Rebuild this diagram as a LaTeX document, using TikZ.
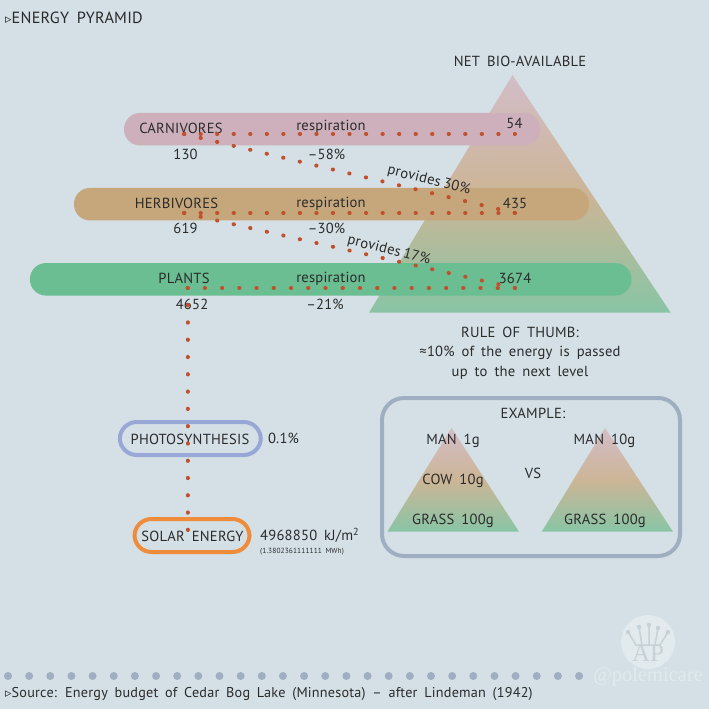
\documentclass[tikz,border=0pt]{standalone}
\usepackage{fontspec}
\setmainfont{PT Sans}[LetterSpace=1.5,WordSpace=1.7]
\newfontfamily\symfont{DejaVu Sans}
\newfontfamily\markfont{Liberation Serif}
\usepackage{xcolor}
\usepackage{tikz}
\usetikzlibrary{arrows.meta, positioning, calc}

\definecolor{bgcol}{HTML}{D4E0E5}
\definecolor{inkcol}{HTML}{2B2B2B}
\definecolor{dotcol}{HTML}{C1502E}
\definecolor{carncol}{HTML}{CEB0BC}
\definecolor{herbcol}{HTML}{C6A77C}
\definecolor{plantcol}{HTML}{6BBD92}
\definecolor{topcol}{HTML}{D3BDC8}
\definecolor{midcol}{HTML}{CCB596}
\definecolor{lowcol}{HTML}{88C5A5}
\definecolor{greycol}{HTML}{A0AEC2}
\definecolor{photocol}{HTML}{98A7D5}
\definecolor{solarcol}{HTML}{EF8C3C}
\definecolor{markcol}{HTML}{E2EAED}
\definecolor{markline}{HTML}{C6D2D7}

\begin{document}
\begin{tikzpicture}[
  x=1pt, y=-1pt,
  node distance=6pt and 6pt,
  label/.style={inner sep=0pt, text=inkcol, font=\fontsize{14.6}{17}\selectfont},
  tiny/.style={inner sep=0pt, text=inkcol, font=\fontsize{7.4}{8}\selectfont},
  bar/.style={rectangle, rounded corners=16pt, minimum height=32.5pt, inner sep=0pt},
  pill/.style={rectangle, draw, line width=4pt, rounded corners=17pt, minimum height=33pt, inner sep=0pt},
  pyr/.style={top color=topcol, bottom color=lowcol, middle color=midcol},
  flow/.style={draw=dotcol, line width=4pt, line cap=round},
]
  \fill[bgcol] (0,0) rectangle (709,709);
  \path[use as bounding box] (0,0) rectangle (709,709);

  % pyramid
  \shade[pyr] (512.5,75) -- (670.7,312.7) -- (369,312.7) -- cycle;
  \node[label] (nettitle) at (520,61) {NET BIO-AVAILABLE};

  \node[bar, fill=carncol, minimum width=416pt] (carnbar) at (332,129.2) {};
  \node[bar, fill=herbcol, minimum width=515pt] (herbbar) at (331.5,204.2) {};
  \node[bar, fill=plantcol, minimum width=601.5pt] (plantbar) at (330.7,279.3) {};

  \node[label, anchor=west, font=\fontsize{16.2}{17}\selectfont] (title) at (5,18) {{\symfont\fontsize{13}{13}\selectfont ▹}ENERGY PYRAMID};

  % rows
  \node[label] (carn) at (181,128) {CARNIVORES};
  \node[label] (carnresp) at (331,127) {respiration};
  \node[label] (carnnet) at (514.5,123.5) {54};
  \node[label] (carngross) at (185.5,154.5) {130};
  \node[label] (carnloss) at (326.5,154.5) {–58\%};

  \node[label] (herb) at (176.5,203.5) {HERBIVORES};
  \node[label] (herbresp) at (331,204) {respiration};
  \node[label] (herbnet) at (515,203.5) {435};
  \node[label] (herbgross) at (185.5,228.5) {619};
  \node[label] (herbloss) at (326.5,228.5) {–30\%};

  \node[label] (plant) at (184,278.5) {PLANTS};
  \node[label] (plantresp) at (331,279) {respiration};
  \node[label] (plantnet) at (515,278.5) {3674};
  \node[label] (plantgross) at (192,304.5) {4652};
  \node[label] (plantloss) at (325,304.5) {–21\%};

  \node[label, rotate=-14] (give30) at (429,180.5) {provides\hspace{3pt}30\%};
  \node[label, rotate=-14] (give17) at (389,250.5) {provides\hspace{3pt}17\%};

  % rule of thumb
  \node[label] (rule1) at (520,332.5) {RULE OF THUMB:};
  \node[label] (rule2) at (520,352.5) {≈10\% of the energy is passed};
  \node[label] (rule3) at (520,372.5) {up to the next level};

  % example
  \node[draw=greycol, line width=4pt, rounded corners=22pt, minimum width=298pt, minimum height=158pt, inner sep=0pt] (examplebox) at (531,477) {};
  \shade[pyr] (451.5,428) -- (519,531.7) -- (387.3,531.7) -- cycle;
  \shade[pyr] (605,428) -- (673,531.7) -- (541.7,531.7) -- cycle;
  \node[label] (example) at (533,413.5) {EXAMPLE:};
  \node[label] (man1) at (453,440.5) {MAN 1g};
  \node[label] (cow) at (453,480.5) {COW 10g};
  \node[label] (grass1) at (453,520.5) {GRASS 100g};
  \node[label] (vs) at (533,473.5) {VS};
  \node[label] (man2) at (604.5,440.5) {MAN 10g};
  \node[label] (grass2) at (605,520.5) {GRASS 100g};

  % sources
  \node[pill, draw=photocol, minimum width=141pt] (photobox) at (190.3,438.5) {};
  \node[pill, draw=solarcol, minimum width=115pt] (solarbox) at (192,535.5) {};
  \node[label] (photo) at (190,439.5) {PHOTOSYNTHESIS};
  \node[label, right=5pt of photobox] (photopct) {0.1\%};
  \node[label] (solar) at (192.5,536.5) {SOLAR ENERGY};
  \node[label, anchor=west] (solarval) at (260,535) {4968850 kJ/m\textsuperscript{2}};
  \node[tiny, anchor=west] (solarmwh) at (260,551.5) {(1.3802361111111 MWh)};

  % energy flow dots
  \coordinate (carnleft) at (184,134);
  \coordinate (carnright) at (515,134);
  \coordinate (herbleft) at (184,213);
  \coordinate (herbright) at (515,213);
  \coordinate (plantleft) at (187.5,288);
  \coordinate (plantright) at (515,288);
  \coordinate (solarin) at (187.5,530);

  \draw[flow, dash pattern=on 0.3pt off 16.24pt] (carnleft) -- (carnright);
  \draw[flow, dash pattern=on 0.3pt off 16.69pt] (carnleft) -- (herbright);
  \draw[flow, dash pattern=on 0.3pt off 16.24pt] (herbleft) -- (herbright);
  \draw[flow, dash pattern=on 0.3pt off 16.66pt] (herbleft) -- (plantright);
  \draw[flow, dash pattern=on 0.3pt off 16.93pt] (plantleft) -- (plantright);
  \draw[flow, dash pattern=on 0.3pt off 16.98pt] (solarin) -- (plantleft);

  % footer
  \foreach \i in {0,...,27}
    \fill[greycol] (8+21.15*\i,676) circle (4pt);
  \node[label, anchor=west, font=\fontsize{14.2}{17}\selectfont] (source) at (5,694) {{\symfont\fontsize{13}{13}\selectfont ▹}Source: Energy budget of Cedar Bog Lake (Minnesota) – after Lindeman (1942)};

  % watermark
  \fill[markcol] (648,642) circle (27pt);
  \node[inner sep=0pt, text=markline, font=\markfont\fontsize{25}{25}\selectfont] (markletters) at (648,653) {AP};
  \draw[markline, line width=1.5pt] (628,632) -- (636,645) -- (660,645) -- (668,632)
    (639,627) -- (642,645) (649,625) -- (649,645) (658,628) -- (655,645);
  \foreach \x/\y in {628/632, 639/627, 649/625, 658/628, 668/632}
    \fill[markline] (\x,\y) circle (2.2pt);
  \node[inner sep=0pt, text=markcol, font=\markfont\fontsize{20.5}{20}\selectfont] (markname) at (648,677) {@polemicare};
\end{tikzpicture}
\end{document}
